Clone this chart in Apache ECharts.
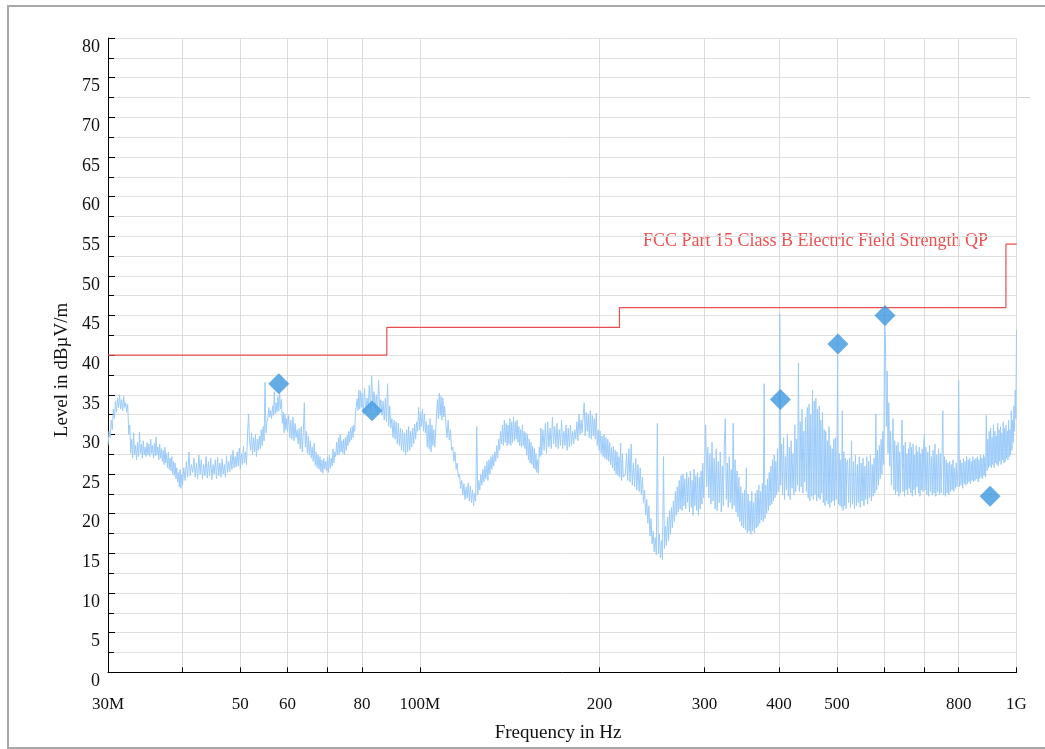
<!DOCTYPE html>
<html>
<head>
<meta charset="utf-8">
<title>Radiated emission scan</title>
<script src="https://cdn.jsdelivr.net/npm/echarts@6/dist/echarts.min.js"></script>
<style>
  html, body { margin: 0; padding: 0; background: #ffffff; }
  #chart { position: absolute; left: 0; top: 0; width: 1045px; height: 749px; }
  #frame { position: absolute; left: 7px; top: 5px; width: 1060px; height: 744px;
           border: 2px solid #a8a8a8; border-right: none; box-sizing: border-box; pointer-events: none; }
</style>
</head>
<body>
<div id="chart"></div>
<div id="frame"></div>
<script>
// Frequency axis (MHz): tick positions and the labelled subset
const xTickValues = [30, 40, 50, 60, 70, 80, 100, 200, 300, 400, 500, 600, 700, 800, 1000];
const xLabelValues = [30, 50, 60, 80, 100, 200, 300, 400, 500, 800, 1000];
const xLabelTexts = ['30M', '50', '60', '80', '100M', '200', '300', '400', '500', '800', '1G'];

// FCC Part 15 Class B limit (MHz, dBµV/m)
const limitName = 'FCC Part 15 Class B Electric Field Strength QP';
const limitFreqs = [30, 88, 88, 216, 216, 960, 960, 1000];
const limitLevels = [40, 40, 43.5, 43.5, 46, 46, 54, 54];

// Final (quasi-peak) measurements
const finalFreqs = [58.0, 83.1, 402, 502, 602, 903];
const finalLevels = [36.4, 33.0, 34.4, 41.4, 45.0, 22.2];

// Peak scan, recorded in sweep blocks: each block has a start frequency and step (MHz)
const levels30to40 = [28.6, 30.4, 29.6, 31.8, 30.6, 33.2, 32.0, 34.2, 32.8, 34.6,
  33.4, 35.0, 33.2, 34.4, 33.0, 34.8, 33.4, 34.0, 32.8, 33.8,
  30.0, 31.2, 27.6, 29.4, 27.0, 30.2, 27.4, 28.6, 26.8, 29.0,
  27.2, 30.3, 27.6, 28.8, 27.0, 29.2, 27.4, 28.4, 27.2, 29.0,
  27.4, 28.8, 27.2, 29.4, 27.6, 28.6, 27.0, 28.9, 27.3, 29.7,
  27.4, 28.4, 26.8, 28.8, 27.0, 28.2, 26.6, 28.0, 26.2, 28.4,
  26.4, 27.6, 25.8, 27.8, 25.6, 27.0, 25.4, 27.2, 25.0, 26.6,
  24.8, 26.4, 24.4, 25.8, 24.0, 25.2, 23.4, 25.6, 23.2, 25.0,
  23.6];
const levels40to60 = [25.8, 24.2, 26.6, 24.6, 27.8, 24.8, 26.2, 25.2, 27.0, 24.6,
  26.4, 24.4, 27.4, 25.0, 26.8, 24.4, 26.2, 24.8, 27.2, 24.5,
  26.6, 24.8, 27.0, 24.3, 26.2, 25.0, 26.8, 24.4, 27.1, 24.8,
  26.4, 24.6, 26.9, 25.0, 26.2, 24.6, 27.3, 25.2, 26.6, 25.3,
  27.4, 25.6, 28.0, 25.8, 27.2, 25.9, 27.8, 26.0, 28.3, 25.6,
  27.6, 26.2, 28.5, 26.4, 27.8, 26.2, 29.8, 32.6, 29.4, 28.0,
  30.2, 27.4, 29.6, 27.8, 30.0, 27.2, 29.4, 28.0, 29.8, 28.2,
  30.6, 28.6, 31.0, 29.2, 36.6, 30.2, 31.6, 32.0, 33.4, 32.2,
  33.0, 32.0, 33.6, 32.4, 35.4, 32.6, 34.0, 32.8, 34.8, 33.0,
  35.2, 33.2, 34.4, 31.4, 32.8, 30.2, 32.6, 30.6, 32.0, 30.4];
const levels60to80 = [32.4, 29.6, 31.8, 29.4, 32.2, 29.2, 31.4, 29.6, 30.6, 28.8,
  30.8, 28.2, 31.0, 27.8, 30.2, 34.0, 28.4, 30.4, 27.6, 29.8,
  27.4, 29.2, 27.0, 28.4, 26.6, 28.9, 26.1, 27.8, 25.8, 27.4,
  25.6, 27.2, 25.3, 26.8, 25.1, 27.0, 25.6, 26.6, 25.4, 27.2,
  25.2, 27.4, 25.7, 27.0, 26.0, 28.2, 26.4, 27.8, 27.2, 29.0,
  27.4, 29.6, 27.5, 30.0, 27.8, 29.2, 27.6, 29.4, 27.4, 29.6,
  28.0, 29.9, 28.6, 30.4, 29.0, 30.8, 29.3, 31.0, 29.6, 31.2,
  30.4, 32.8, 32.6, 34.5, 33.0, 35.6, 33.2, 35.5, 33.4, 35.2];
const levels80to110 = [32.6, 35.8, 32.8, 34.6, 33.4, 36.2, 33.0, 37.4, 33.6, 35.4,
  33.2, 35.0, 32.6, 36.8, 33.0, 34.4, 32.4, 34.2, 31.8, 34.6,
  31.6, 36.4, 31.0, 33.6, 30.8, 32.0, 29.6, 31.8, 29.4, 31.6,
  28.8, 31.4, 28.6, 30.8, 28.0, 30.6, 27.8, 30.2, 27.4, 30.6,
  27.8, 31.0, 28.0, 30.4, 28.4, 30.8, 28.8, 31.3, 29.4, 31.6,
  30.4, 33.4, 30.6, 32.8, 31.0, 33.2, 30.4, 32.6, 30.2, 31.6,
  28.4, 31.2, 28.2, 32.0, 27.8, 31.2, 28.6, 30.6, 28.4, 30.2,
  32.6, 34.4, 32.0, 35.2, 32.4, 34.8, 31.8, 34.6, 32.2, 33.6];
const levels110to160 = [31.4, 29.6, 31.8, 29.3, 30.6, 28.0, 28.4, 26.6, 27.8, 25.6,
  26.4, 24.6, 25.0, 23.2, 24.2, 22.4, 23.8, 21.8, 23.4, 22.0,
  23.9, 21.6, 23.5, 21.4, 23.0, 21.0, 22.6, 21.6, 31.0, 22.4,
  24.2, 23.0, 25.0, 23.6, 25.6, 24.0, 26.0, 24.4, 26.6, 24.2,
  26.8, 25.0, 27.2, 25.6, 27.4, 26.0, 27.8, 26.6, 28.6, 27.0,
  29.4, 28.0, 30.4, 28.8, 31.2, 28.6, 31.8, 29.0, 31.4, 28.6,
  31.2, 28.8, 32.0, 28.6, 31.6, 29.0, 32.2, 29.2, 31.6, 29.4,
  31.8, 29.0, 31.0, 28.6, 30.6, 28.4, 31.2, 28.6, 30.4, 28.2,
  30.2, 27.4, 30.0, 26.8, 29.4, 26.4, 29.0, 26.2, 28.5, 25.8,
  28.2, 25.6, 27.6, 25.2, 26.8, 25.1, 28.4, 27.2, 30.8, 27.4];
const levels160to220 = [30.6, 28.0, 31.4, 27.6, 31.6, 28.4, 30.8, 28.2, 32.2, 28.8,
  31.0, 28.4, 31.4, 28.2, 30.6, 28.6, 31.8, 28.2, 30.4, 28.6,
  31.2, 28.0, 30.8, 28.4, 31.2, 28.6, 30.4, 28.8, 30.6, 29.4,
  31.6, 29.2, 32.6, 30.0, 31.8, 30.2, 32.4, 34.0, 29.8, 32.8,
  30.4, 32.6, 29.6, 33.0, 29.4, 32.4, 29.8, 32.0, 29.4, 32.7,
  28.6, 30.6, 28.0, 30.4, 27.6, 29.8, 27.2, 30.0, 27.0, 29.6,
  26.8, 29.4, 26.6, 29.0, 26.2, 28.4, 25.8, 28.5, 25.4, 28.0,
  25.0, 27.8, 24.8, 27.2, 24.6, 28.9, 24.2, 27.6, 24.6, 24.4];
const levels221to300 = [25.0, 27.6, 24.2, 28.2, 24.0, 28.8, 23.6, 26.4, 23.4, 27.0,
  23.0, 26.2, 22.8, 25.8, 22.4, 24.6, 21.4, 23.0, 19.8, 21.8,
  18.8, 21.0, 17.2, 19.4, 16.2, 17.8, 15.2, 17.0, 14.8, 31.4,
  15.0, 17.4, 14.4, 16.6, 14.2, 27.2, 15.6, 18.4, 16.0, 19.6,
  16.6, 20.4, 17.4, 20.8, 18.2, 21.6, 19.0, 22.8, 19.8, 23.4,
  20.2, 24.2, 20.6, 24.8, 20.4, 25.0, 21.0, 24.4, 20.6, 25.2,
  21.4, 24.6, 20.2, 25.4, 20.8, 24.2, 19.8, 25.6, 21.0, 24.8,
  20.4, 25.2, 19.8, 24.6, 20.6, 25.4, 21.2, 26.4, 22.0, 24.6];
const levels301to400 = [31.2, 23.4, 28.4, 22.0, 27.6, 21.2, 29.0, 21.6, 27.0, 20.6,
  28.2, 20.4, 26.6, 21.4, 27.8, 20.2, 26.0, 21.0, 28.6, 32.0,
  21.8, 26.4, 20.8, 27.2, 21.4, 25.6, 20.6, 31.4, 21.0, 26.8,
  20.2, 25.4, 19.6, 24.6, 19.0, 23.4, 18.4, 22.6, 18.2, 23.0,
  18.0, 25.8, 17.6, 22.4, 17.8, 21.6, 17.4, 22.8, 17.8, 21.4,
  17.6, 22.6, 18.2, 23.0, 18.4, 23.6, 18.8, 22.8, 19.2, 23.8,
  19.0, 36.4, 19.4, 23.6, 20.0, 24.4, 20.4, 25.2, 21.0, 26.0,
  21.2, 26.8, 21.6, 27.4, 22.0, 26.6, 22.4, 28.2, 22.8, 23.4];
const levels401to521 = [45.2, 23.6, 28.8, 22.4, 29.6, 21.8, 27.2, 23.0, 30.0, 22.2,
  28.4, 21.8, 29.2, 23.2, 27.6, 22.4, 31.2, 22.8, 29.4, 23.6,
  39.0, 22.8, 31.6, 23.4, 33.2, 22.6, 30.4, 24.0, 32.2, 22.8,
  33.4, 22.0, 33.8, 21.6, 32.6, 22.2, 35.6, 21.8, 34.2, 22.4,
  34.6, 21.6, 33.2, 22.0, 33.6, 21.8, 31.8, 22.6, 32.8, 21.4,
  30.6, 21.0, 30.4, 21.6, 29.2, 21.2, 31.0, 20.8, 28.6, 21.4,
  28.2, 21.6, 29.4, 21.0, 29.6, 21.8, 28.4, 40.0, 21.2, 27.6,
  21.0, 26.8, 20.8, 33.0, 20.4, 27.8, 21.0, 27.0, 20.6, 26.4,
  26.8];
const levels523to701 = [21.4, 27.0, 20.8, 29.2, 21.2, 26.6, 20.6, 27.4, 21.0, 26.2,
  21.4, 27.2, 20.8, 26.4, 21.6, 27.0, 21.0, 26.0, 21.8, 27.2,
  21.2, 26.6, 22.0, 27.4, 21.6, 26.2, 22.2, 27.0, 22.6, 32.6,
  23.0, 28.0, 23.6, 28.6, 24.4, 29.4, 25.0, 30.4, 26.2, 44.4,
  42.2, 31.0, 38.0, 27.6, 34.0, 26.0, 30.4, 23.6, 28.8, 32.0,
  23.0, 29.2, 22.4, 28.6, 22.8, 29.0, 22.2, 27.8, 22.6, 28.4,
  31.8, 22.8, 28.6, 22.2, 29.0, 23.0, 27.6, 22.4, 28.2, 23.2,
  29.0, 22.6, 28.4, 22.2, 28.8, 23.0, 27.4, 22.4, 28.6, 23.4,
  27.8, 22.6, 28.4, 22.2, 27.6, 23.0, 28.2, 22.8, 29.0, 30.0];
const levels702to1000 = [23.0, 28.4, 22.4, 27.8, 22.2, 28.6, 22.8, 27.2, 22.4, 28.0,
  22.6, 28.8, 22.2, 27.4, 22.8, 28.2, 22.4, 27.6, 22.6, 27.0,
  33.0, 22.4, 27.2, 22.2, 26.8, 22.6, 26.4, 22.4, 26.6, 22.8,
  26.2, 23.0, 26.8, 22.8, 25.8, 23.2, 26.4, 23.4, 25.6, 36.8,
  23.4, 26.8, 23.6, 26.4, 23.2, 27.0, 23.8, 26.6, 23.6, 27.2,
  23.8, 26.8, 24.0, 27.0, 23.8, 26.6, 24.2, 27.2, 24.0, 26.8,
  24.2, 27.0, 24.4, 27.2, 24.0, 26.8, 24.4, 27.4, 24.6, 27.0,
  24.4, 27.4, 24.8, 27.2, 24.6, 32.4, 25.4, 29.4, 25.8, 30.4,
  26.0, 30.8, 25.8, 29.6, 26.2, 31.2, 25.8, 30.4, 26.4, 29.8,
  26.2, 31.4, 26.0, 30.6, 26.6, 31.0, 26.2, 30.2, 26.8, 31.6,
  26.4, 30.8, 26.6, 31.2, 27.0, 30.4, 26.8, 31.8, 27.2, 30.6,
  27.4, 33.0, 28.0, 31.8, 29.0, 33.6, 30.4, 35.6, 32.0, 43.2];

// [start MHz, step MHz, levels]
const sweepBlocks = [
  [30, 0.125, levels30to40],
  [40.2, 0.2, levels40to60],
  [60.25, 0.25, levels60to80],
  [80.375, 0.375, levels80to110],
  [110.5, 0.5, levels110to160],
  [160.75, 0.75, levels160to220],
  [221, 1, levels221to300],
  [301.25, 1.25, levels301to400],
  [401, 1.5, levels401to521],
  [523, 2, levels523to701],
  [702.5, 2.5, levels702to1000]
];

const tracePoints = [];
sweepBlocks.forEach(([start, step, levels]) => {
  levels.forEach((lv, i) => {
    tracePoints.push([Math.round((start + i * step) * 1000) / 1000, lv]);
  });
});

const limitPoints = limitFreqs.map((f, i) => [f, limitLevels[i]]);
const finalPoints = finalFreqs.map((f, i) => [f, finalLevels[i]]);

const serif = '"Liberation Serif", "Times New Roman", serif';

function freqLabel(v) {
  for (let i = 0; i < xLabelValues.length; i++) {
    if (Math.abs(xLabelValues[i] - v) < 1e-6 * xLabelValues[i]) return xLabelTexts[i];
  }
  return '';
}

const chart = echarts.init(document.getElementById('chart'), null, { renderer: 'canvas' });

chart.setOption({
  animation: false,
  backgroundColor: 'transparent',
  grid: { left: 108, top: 38, width: 908.5, height: 634.3, containLabel: false },
  xAxis: {
    type: 'log',
    logBase: 10,
    min: 30,
    max: 1000,
    axisLine: { show: true, lineStyle: { color: '#000', width: 1 } },
    axisTick: { show: true, inside: true, length: 5, customValues: xTickValues, lineStyle: { color: '#000' } },
    axisLabel: {
      customValues: xLabelValues,
      formatter: freqLabel,
      fontFamily: serif, fontSize: 17, color: '#111', margin: 24
    },
    splitLine: { show: true, lineStyle: { color: '#dcdcdc', width: 1 } },
    minorTick: { show: false },
    minorSplitLine: { show: false }
  },
  yAxis: {
    type: 'value',
    min: 0,
    max: 80,
    interval: 5,
    axisLine: { show: true, lineStyle: { color: '#000', width: 1 } },
    axisTick: { show: true, inside: true, length: 7, lineStyle: { color: '#000' } },
    minorTick: { show: true, splitNumber: 2, length: 6, lineStyle: { color: '#000' } },
    splitLine: { show: true, lineStyle: { color: '#e0e0e0' } },
    minorSplitLine: { show: true, lineStyle: { color: '#e0e0e0' } },
    axisLabel: { fontFamily: serif, fontSize: 18, color: '#111', margin: 8, verticalAlign: 'top' }
  },
  series: [
    {
      name: 'Peak scan',
      type: 'line',
      data: tracePoints,
      showSymbol: false,
      symbol: 'none',
      sampling: 'none',
      lineStyle: { color: '#9ccbfa', width: 1 },
      z: 2
    },
    {
      name: limitName,
      type: 'line',
      data: limitPoints,
      showSymbol: false,
      symbol: 'none',
      lineStyle: { color: '#eb4e4e', width: 1.2 },
      z: 3
    },
    {
      name: 'Final',
      type: 'scatter',
      data: finalPoints,
      symbol: 'diamond',
      symbolSize: 21,
      itemStyle: { color: '#3d97de' },
      z: 4
    }
  ],
  graphic: [
    {
      type: 'line',
      shape: { x1: 121, y1: 97.5, x2: 1030, y2: 97.5 },
      style: { stroke: '#d2d2d2', lineWidth: 1 },
      silent: true
    },
    {
      type: 'text',
      x: 988, y: 241,
      style: { text: limitName, font: '18px ' + serif, fill: '#ee5050', align: 'right', verticalAlign: 'middle' },
      silent: true
    },
    {
      type: 'text',
      x: 62, y: 370,
      rotation: Math.PI / 2,
      style: { text: 'Level in dBµV/m', font: '19px ' + serif, fill: '#111', align: 'center', verticalAlign: 'middle' },
      silent: true
    },
    {
      type: 'text',
      x: 558, y: 733,
      style: { text: 'Frequency in Hz', font: '19px ' + serif, fill: '#111', align: 'center', verticalAlign: 'middle' },
      silent: true
    }
  ]
});
</script>
</body>
</html>
